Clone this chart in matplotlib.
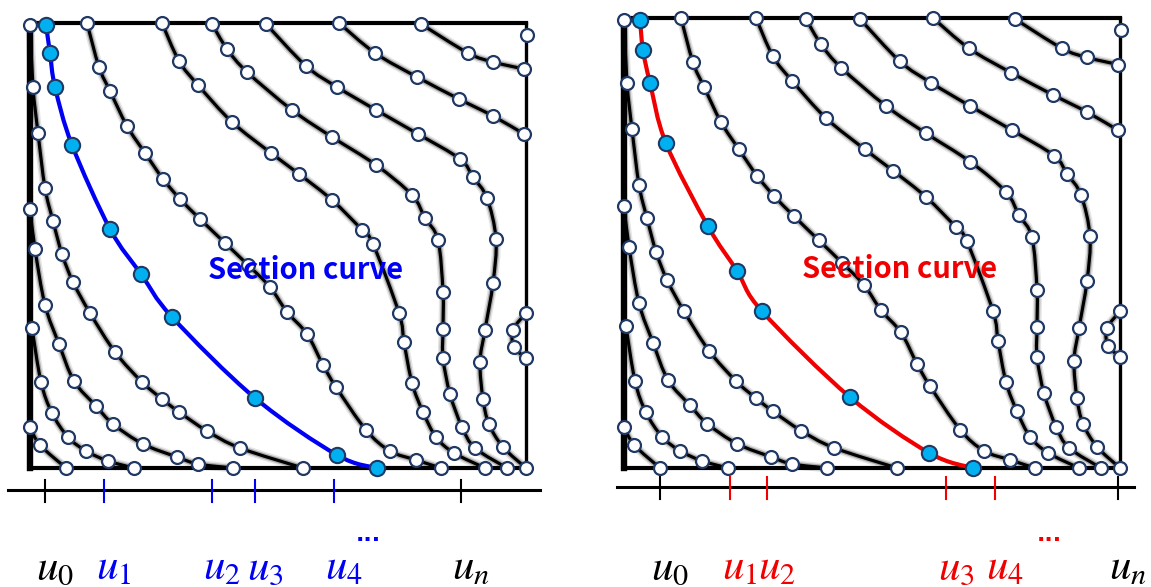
import numpy as np
import matplotlib
matplotlib.use("Agg")
import matplotlib.pyplot as plt
from matplotlib.path import Path
from matplotlib.patches import PathPatch

plt.rcParams['mathtext.fontset'] = 'stix'

# ---------------------------------------------------------------------------
# Iso-parametric lines of the surface patch, in domain units:
# x runs left -> right (0..496), y runs top -> bottom (0..445)
# ---------------------------------------------------------------------------
DOMAIN_W, DOMAIN_H = 496, 445

iso_g1 = [(0, 2), (3, 64), (8, 110), (15, 165), (23, 198), (32, 231), (43, 259),
          (60, 290), (85, 329), (112, 359), (132, 376), (149, 389), (177, 408),
          (210, 425), (273, 445)]
iso_g2 = [(0, 186), (5, 226), (15, 282), (29, 321), (44, 358), (66, 383), (83, 401),
          (113, 421), (147, 434), (168, 441), (203, 445)]
iso_g3 = [(2, 305), (11, 359), (22, 390), (38, 414), (56, 428), (78, 438), (104, 445)]
iso_g4 = [(0, 404), (10, 422), (36, 445)]
iso_d1 = [(57, 0), (69, 44), (80, 68), (97, 103), (115, 130), (133, 156), (150, 176),
          (170, 196), (195, 220), (218, 242), (240, 264), (257, 289), (277, 311),
          (293, 342), (306, 364), (336, 407), (360, 428), (386, 437), (411, 445)]
iso_d2 = [(132, 0), (149, 38), (168, 62), (202, 99), (241, 130), (269, 151), (302, 177),
          (332, 207), (343, 221), (369, 290), (374, 319), (382, 360), (393, 389),
          (406, 414), (424, 430), (455, 445)]
iso_d3 = [(182, 1), (197, 26), (217, 49), (262, 87), (302, 114), (346, 142), (382, 172),
          (395, 195), (408, 217), (413, 269), (413, 306), (413, 335), (420, 371),
          (432, 404), (445, 425), (477, 445)]
iso_d4 = [(236, 1), (276, 43), (307, 64), (346, 87), (388, 111), (430, 136), (443, 154),
          (457, 175), (466, 216), (463, 260), (455, 307), (450, 339), (453, 376),
          (459, 401), (473, 424), (496, 445)]
iso_d5 = [(309, 0), (345, 30), (387, 54), (429, 76), (463, 93), (494, 111)]
iso_d6 = [(391, 1), (438, 30), (463, 39), (494, 46)]
iso_bump = [(496, 290), (483, 307), (484, 324), (496, 335)]
edge_points = [(497, 12)]

iso_lines = [iso_g1, iso_g2, iso_g3, iso_g4, iso_d1, iso_d2, iso_d3,
             iso_d4, iso_d5, iso_d6, iso_bump]

# Section curves through the patch
section_blue = [(16, 2), (20, 30), (25, 64), (42, 122), (80, 206), (111, 251),
                (142, 294), (225, 375), (307, 432), (347, 445)]
section_red = [(16, 2), (19, 32), (26, 64), (42, 124), (84, 206), (113, 250),
               (138, 290), (226, 375), (305, 430), (349, 445)]

# Parameter values on the u axis (0 = u0, 1 = un)
knots_blue = [0.142, 0.402, 0.505, 0.696]
knots_red = [0.152, 0.233, 0.625, 0.731]
knot_names_blue = [r'$u_1$', r'$u_2$', r'$u_3$', r'$u_4$']
knot_names_red = [r'$u_1$', r'$u_2$', r'$u_3$', r'$u_4$']
dots_blue = 0.779
dots_red = 0.849

BLUE = '#0000F5'
RED = '#F00000'
CYAN = '#00B0F0'
NAVY = '#1F3864'

fig = plt.figure(figsize=(11.51, 5.87), dpi=100)
ax = fig.add_axes([0, 0, 1, 1])
ax.set_xlim(0, 1151)
ax.set_ylim(587, 0)
ax.axis('off')


def smooth_path(pts):
    """Catmull-Rom spline through the points, expressed as cubic Bezier segments."""
    p = np.asarray(pts, float)
    n = len(p)
    verts = [p[0]]
    codes = [Path.MOVETO]
    for i in range(n - 1):
        p0 = p[i - 1] if i > 0 else p[i]
        p1, p2 = p[i], p[i + 1]
        p3 = p[i + 2] if i + 2 < n else p[i + 1]
        c1 = p1 + (p2 - p0) / 6.0
        c2 = p2 - (p3 - p1) / 6.0
        verts += [c1, c2, p2]
        codes += [Path.CURVE4] * 3
    return Path(verts, codes)


def draw_panel(box, section, sec_color, knots, knot_names, dots_at, axis_info,
               label_xy):
    left, top, w, h = box

    def to_fig(pts):
        a = np.asarray(pts, float)
        return np.column_stack([left + a[:, 0] * w / DOMAIN_W,
                                top + a[:, 1] * h / DOMAIN_H])

    # boundary of the patch
    ax.plot([left, left + w], [top, top], color='black', lw=3.0, zorder=2,
            solid_capstyle='projecting')
    ax.plot([left, left + w], [top + h, top + h], color='black', lw=3.0, zorder=2,
            solid_capstyle='projecting')
    ax.plot([left + w, left + w], [top, top + h], color='black', lw=2.4, zorder=2)
    ax.plot([left, left], [top, top + h], color='black', lw=4.6, zorder=2,
            solid_capstyle='projecting')

    # iso-parametric lines (soft black strokes)
    for line in iso_lines:
        pts = to_fig(line)
        path = smooth_path(pts)
        for lw, a in [(6.5, 0.10), (4.2, 0.25), (2.3, 1.0)]:
            ax.add_patch(PathPatch(path, fill=False, edgecolor='black', lw=lw,
                                   alpha=a, zorder=3, capstyle='round'))
        ax.plot(pts[:, 0], pts[:, 1], 'o', ms=9.3, mfc='white', mec=NAVY, mew=1.6,
                zorder=5)
    ep = to_fig(edge_points)
    ax.plot(ep[:, 0], ep[:, 1], 'o', ms=9.3, mfc='white', mec=NAVY, mew=1.6, zorder=5)

    # section curve
    sp = to_fig(section)
    ax.add_patch(PathPatch(smooth_path(sp), fill=False, edgecolor=sec_color, lw=3.0,
                           zorder=6, capstyle='round'))
    ax.plot(sp[:, 0], sp[:, 1], 'o', ms=11, mfc=CYAN, mec=NAVY, mew=1.5, zorder=7)

    ax.text(label_xy[0], label_xy[1], 'Section curve', color=sec_color,
            fontsize=21, fontweight='bold',
            family=['Noto Sans CJK KR', 'DejaVu Sans'], ha='center',
            va='center', zorder=8)

    # parameter axis
    x_start, x_end, y_axis, x_u0, x_un = axis_info
    ax.plot([x_start, x_end], [y_axis, y_axis], color='black', lw=2.2, zorder=2)

    def u_to_x(u):
        return x_u0 + u * (x_un - x_u0)

    for u, name, col in [(0.0, r'$u_0$', 'black'), (1.0, r'$u_n$', 'black')] + \
            [(k, nm, sec_color) for k, nm in zip(knots, knot_names)]:
        x = u_to_x(u)
        ax.plot([x, x], [y_axis - 10, y_axis + 12], color=col, lw=1.5, zorder=2)
        ax.text(x + 10, 579, name, color=col, fontsize=31, ha='center',
                va='baseline', zorder=8)
    ax.text(u_to_x(dots_at), 541, '...', color=sec_color, fontsize=16,
            fontweight='bold', ha='center', va='baseline', zorder=8)


draw_panel((30, 23, 496, 445), section_blue, BLUE, knots_blue, knot_names_blue,
           dots_blue, (8, 540, 490, 44.8, 460.6), (306, 270))
draw_panel((624, 18, 496, 450), section_red, RED, knots_red, knot_names_red,
           dots_red, (617, 1134, 487, 660.4, 1118.0), (900, 269))

fig.savefig('out.png', dpi=100)
